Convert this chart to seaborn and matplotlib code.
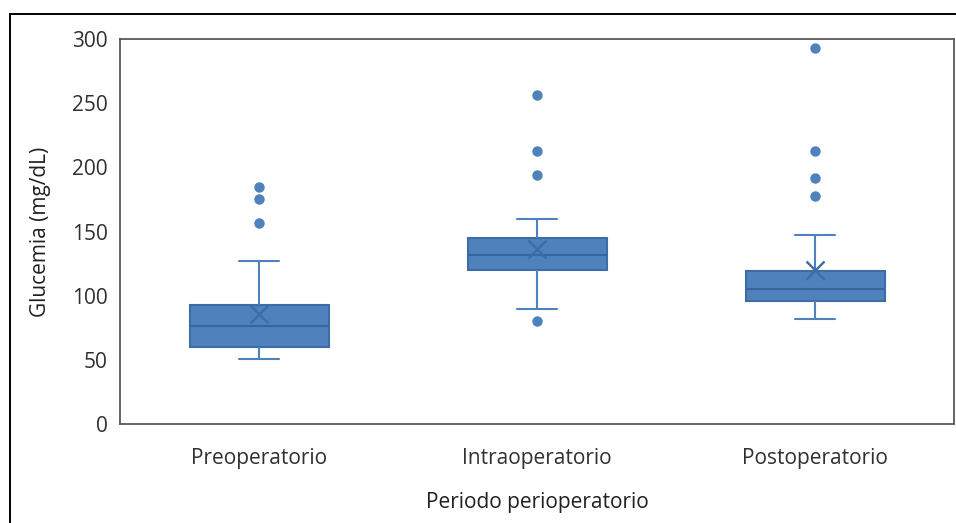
import numpy as np
import pandas as pd
import matplotlib
matplotlib.use("Agg")
import matplotlib.pyplot as plt
from matplotlib.lines import Line2D
import seaborn as sns

# ---- data ----
categories = ["Preoperatorio", "Intraoperatorio", "Postoperatorio"]
whisker_low = [51, 90, 82]
q1 = [60, 120, 96]
median = [76, 132, 105]
q3 = [93, 145, 119]
whisker_high = [127, 160, 147]
means = [86, 136, 120]
outliers_pre = [185, 175, 157]
outliers_intra = [256, 213, 194, 80]
outliers_post = [293, 213, 192, 178]
y_ticks = [0, 50, 100, 150, 200, 250, 300]

# five-number summaries as 5-point samples (quartiles reproduce exactly)
rows = []
for c, a, b, m, d, e in zip(categories, whisker_low, q1, median, q3, whisker_high):
    for v in (a, b, m, d, e):
        rows.append({"cat": c, "val": v})
box_df = pd.DataFrame(rows)

out_rows = []
for c, lst in zip(categories, [outliers_pre, outliers_intra, outliers_post]):
    for v in lst:
        out_rows.append({"cat": c, "val": v})
out_df = pd.DataFrame(out_rows)
mean_df = pd.DataFrame({"cat": categories, "val": means})

sns.set_theme(style="white")
plt.rcParams["font.family"] = ["Open Sans", "DejaVu Sans"]

W, H = 956, 523
fig = plt.figure(figsize=(W / 100, H / 100), dpi=100)
ax = fig.add_axes([120 / W, 1 - 424 / H, (954 - 120) / W, (424 - 39) / H])

fill = "#4F81BD"
edge = "#3C6DA6"
sns.boxplot(data=box_df, x="cat", y="val", order=categories, ax=ax,
            whis=(0, 100), width=0.5, showfliers=False,
            boxprops=dict(facecolor=fill, edgecolor=edge, linewidth=1.5),
            medianprops=dict(color="#3A659A", linewidth=1.5),
            whiskerprops=dict(color=fill, linewidth=1.5),
            capprops=dict(color=fill, linewidth=1.5))

# narrow the whisker caps (Excel style)
cap_half = 0.072
for ln in ax.lines:
    xd = np.asarray(ln.get_xdata(), dtype=float)
    yd = np.asarray(ln.get_ydata(), dtype=float)
    if len(xd) == 2 and yd[0] == yd[1]:
        wdt = abs(xd[1] - xd[0])
        if 0 < wdt < 0.45:
            cx = xd.mean()
            ln.set_xdata([cx - cap_half, cx + cap_half])

sns.stripplot(data=out_df, x="cat", y="val", order=categories, ax=ax,
              jitter=False, color=fill, size=7.5, linewidth=0, zorder=4)
sns.stripplot(data=mean_df, x="cat", y="val", order=categories, ax=ax,
              jitter=False, color=edge, marker="x", size=13, linewidth=1.7,
              zorder=5)

fs = 15
ax.set_ylim(0, 300)
ax.set_xlim(-0.5, 2.5)
ax.set_yticks(y_ticks)
ax.set_yticklabels([str(t) for t in y_ticks])
ax.tick_params(axis="both", length=0, labelsize=fs, colors="#303030")
ax.tick_params(axis="x", pad=17)
ax.tick_params(axis="y", pad=9)
ax.set_xlabel("Periodo perioperatorio", fontsize=fs, color="#202020", labelpad=17)
ax.set_ylabel("Glucemia (mg/dL)", fontsize=fs, color="#202020", labelpad=15)

for s in ax.spines.values():
    s.set_visible(True)
    s.set_color("#595959")
    s.set_linewidth(1.3)

# outer chart border (partially visible in the reference)
fig.add_artist(Line2D([9.5 / W, 9.5 / W], [0, 1 - 13.5 / H], transform=fig.transFigure,
                      color="black", linewidth=1.4))
fig.add_artist(Line2D([9.5 / W, 1], [1 - 13.5 / H, 1 - 13.5 / H], transform=fig.transFigure,
                      color="black", linewidth=1.4))

fig.savefig("out.png", dpi=100)
